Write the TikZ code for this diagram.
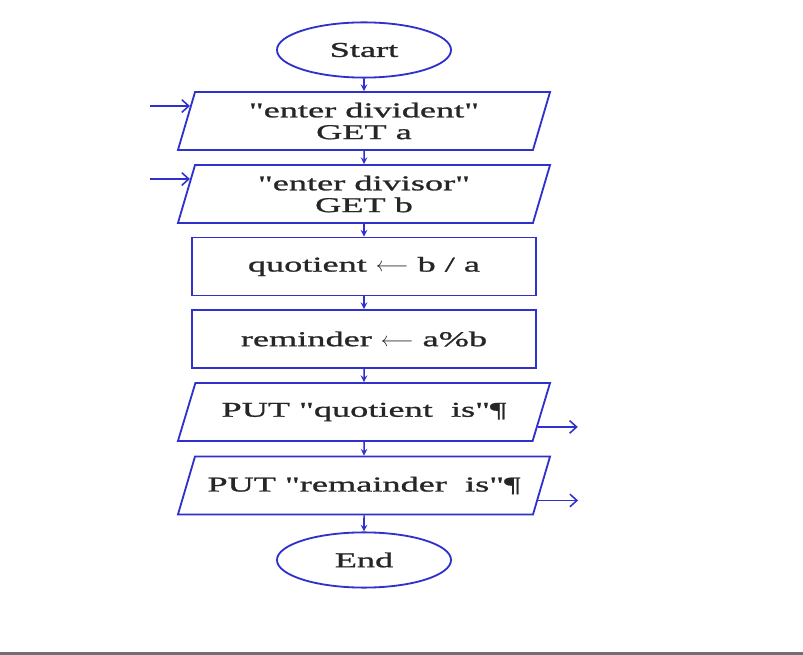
\documentclass[tikz,border=0pt]{standalone}
\usepackage{fontspec}
\setmainfont{Liberation Serif}[Ligatures=TeXOff, FakeStretch=1.72, FakeBold=1.2]
\usepackage{tikz}
\usetikzlibrary{arrows,arrows.meta}
\usetikzlibrary{shapes.geometric,calc}

\definecolor{flowblue}{RGB}{48,48,205}
\definecolor{bargray}{RGB}{112,112,112}

\tikzset{
  terminal/.style={ellipse, draw=flowblue, line width=1.3pt, minimum width=4.35cm, minimum height=1.38cm},
  io/.style={trapezium, trapezium left angle=72, trapezium right angle=108, trapezium stretches body=true,
             draw=flowblue, line width=1.3pt, inner ysep=0.2cm, minimum width=9.3cm, minimum height=1.45cm, align=center},
  oneline/.style={inner ysep=0.44cm},
  process/.style={rectangle, draw=flowblue, line width=1.3pt, minimum width=8.6cm, minimum height=1.45cm},
  flow/.style={->, >=stealth, flowblue, line width=1.1pt},
  inout/.style={-{Straight Barb[length=5pt, width=9pt]}, flowblue, line width=1.1pt}
}

\begin{document}
\begin{tikzpicture}[x=0.025cm, y=-0.025cm, font=\fontsize{15}{15.5}\selectfont, text=black!85]
              \useasboundingbox (0,0) rectangle (803,655);

              \node[terminal] (start) at (364, 50) {Start};
              \node[io] (get1) at (364, 121) {"enter divident"\\GET a};
              \node[io] (get2) at (364, 194) {"enter divisor"\\GET b};
              \node[process] (quot) at (364, 266.5) {quotient $\longleftarrow$ b / a};
              \node[process] (rem) at (364, 339) {reminder $\longleftarrow$ a\%b};
              \node[io, oneline] (put1) at (364, 412) {PUT "quotient\ \ is"¶};
              \node[io, oneline] (put2) at (364, 485.5) {PUT "remainder\ \ is"¶};
              \node[terminal] (end) at (364, 560) {End};

              \draw[flow] (start) -- (get1);
              \draw[flow] (get1) -- (get2);
              \draw[flow] (get2) -- (quot);
              \draw[flow] (quot) -- (rem);
              \draw[flow] (rem) -- (put1);
              \draw[flow] (put1) -- (put2);
              \draw[flow] (put2) -- (end);

              % input and output arrows
              \draw[inout] ($(get1.top left corner)!0.25!(get1.bottom left corner)$) +(-40,0) -- +(0,0);
              \draw[inout] ($(get2.top left corner)!0.25!(get2.bottom left corner)$) +(-40,0) -- +(0,0);
              \draw[inout] ($(put1.bottom right corner)!0.25!(put1.top right corner)$) -- +(40,0);
              \draw[inout] ($(put2.bottom right corner)!0.25!(put2.top right corner)$) -- +(40,0);

              \fill[bargray] (0,652) rectangle (803,655);
            \end{tikzpicture}
\end{document}
